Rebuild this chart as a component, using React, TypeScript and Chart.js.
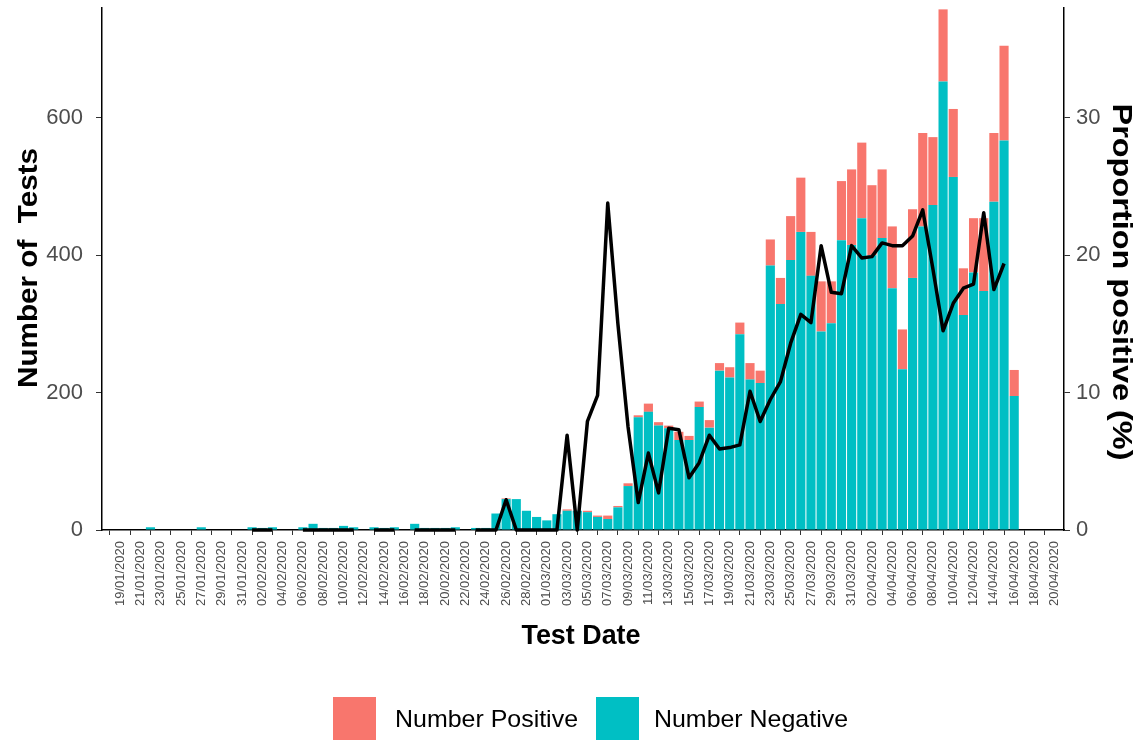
import React, { useEffect, useRef } from "react";
import { Chart, registerables } from "chart.js";

Chart.register(...registerables);

const FONT = '"Liberation Sans", Arial, sans-serif';

// Test dates (one bar per day)
const testDates = [
  "19/01/2020","20/01/2020","21/01/2020","22/01/2020","23/01/2020","24/01/2020","25/01/2020","26/01/2020","27/01/2020","28/01/2020","29/01/2020","30/01/2020","31/01/2020",
  "01/02/2020","02/02/2020","03/02/2020","04/02/2020","05/02/2020","06/02/2020","07/02/2020","08/02/2020","09/02/2020","10/02/2020","11/02/2020","12/02/2020","13/02/2020","14/02/2020","15/02/2020","16/02/2020","17/02/2020","18/02/2020","19/02/2020","20/02/2020","21/02/2020","22/02/2020","23/02/2020","24/02/2020","25/02/2020","26/02/2020","27/02/2020","28/02/2020","29/02/2020",
  "01/03/2020","02/03/2020","03/03/2020","04/03/2020","05/03/2020","06/03/2020","07/03/2020","08/03/2020","09/03/2020","10/03/2020","11/03/2020","12/03/2020","13/03/2020","14/03/2020","15/03/2020","16/03/2020","17/03/2020","18/03/2020","19/03/2020","20/03/2020","21/03/2020","22/03/2020","23/03/2020","24/03/2020","25/03/2020","26/03/2020","27/03/2020","28/03/2020","29/03/2020","30/03/2020","31/03/2020",
  "01/04/2020","02/04/2020","03/04/2020","04/04/2020","05/04/2020","06/04/2020","07/04/2020","08/04/2020","09/04/2020","10/04/2020","11/04/2020","12/04/2020","13/04/2020","14/04/2020","15/04/2020","16/04/2020"
];

const numberNegative = [
  0,0,0,4,0,0,0,0,4,0,0,0,0,
  4,3,4,0,0,4,9,3,3,6,4,0,4,3,4,0,9,3,3,3,4,0,3,3,24,45,45,28,19,
  14,23,28,28,26,19,16,33,64,164,172,152,148,131,131,179,149,232,222,285,219,214,385,329,393,434,370,289,301,422,415,
  454,400,425,352,234,367,442,473,653,514,313,375,348,478,567,195
];

const numberPositive = [
  0,0,0,0,0,0,0,0,0,0,0,0,0,
  0,0,0,0,0,0,0,0,0,0,0,0,0,0,0,0,0,0,0,0,0,0,0,0,0,1,0,0,0,
  0,0,2,0,2,2,5,2,4,3,12,5,4,12,6,8,11,11,15,17,24,18,38,38,64,79,64,73,61,86,110,
  110,102,100,90,58,100,136,99,105,99,68,79,106,100,138,38
];

const proportionPositive = [
  null,null,null,0,null,null,null,null,0,null,null,null,null,
  0,0,0,null,null,0,0,0,0,0,0,null,0,0,0,null,0,0,0,0,0,null,0,0,0,2.2,0,0,0,
  0,0,6.9,0,7.9,9.8,23.8,15,7.5,2.0,5.6,2.7,7.4,7.3,3.8,4.9,6.9,5.9,6.0,6.2,10.1,7.9,9.5,10.8,13.6,15.7,15.1,20.7,17.3,17.2,20.7,
  19.8,19.9,20.9,20.7,20.7,21.4,23.3,19.0,14.5,16.5,17.6,17.9,23.1,17.5,19.4,null
];

const xTickLabels = [
  "19/01/2020","21/01/2020","23/01/2020","25/01/2020","27/01/2020","29/01/2020","31/01/2020",
  "02/02/2020","04/02/2020","06/02/2020","08/02/2020","10/02/2020","12/02/2020","14/02/2020","16/02/2020","18/02/2020","20/02/2020","22/02/2020","24/02/2020","26/02/2020","28/02/2020",
  "01/03/2020","03/03/2020","05/03/2020","07/03/2020","09/03/2020","11/03/2020","13/03/2020","15/03/2020","17/03/2020","19/03/2020","21/03/2020","23/03/2020","25/03/2020","27/03/2020","29/03/2020","31/03/2020",
  "02/04/2020","04/04/2020","06/04/2020","08/04/2020","10/04/2020","12/04/2020","14/04/2020","16/04/2020","18/04/2020","20/04/2020"
];

const leftTicks = [0, 200, 400, 600];
const rightTicks = [0, 10, 20, 30];

const seriesNames = ["Number Positive", "Number Negative"];
const seriesColors = ["#F8766D", "#00BFC4"];
const xTitle = "Test Date";
const yTitle = "Number of  Tests";
const y2Title = "Proportion positive (%)";

function dayOf(s: string): number {
  const [d, m, y] = s.split("/").map(Number);
  const [d0, m0, y0] = testDates[0].split("/").map(Number);
  return Math.round((Date.UTC(y, m - 1, d) - Date.UTC(y0, m0 - 1, d0)) / 86400000);
}

function drawText(ctx: CanvasRenderingContext2D, text: string, cx: number, cy: number, angle: number, font: string, targetLen: number, align: CanvasTextAlign = "center") {
  ctx.save();
  ctx.font = font;
  const w = ctx.measureText(text).width;
  ctx.translate(cx, cy);
  ctx.rotate(angle);
  ctx.scale(targetLen / w, 1);
  ctx.textAlign = align;
  ctx.textBaseline = "middle";
  ctx.fillText(text, 0, 0);
  ctx.restore();
}

const decorPlugin = {
  id: "decor",
  afterDraw(chart: any) {
    const ctx: CanvasRenderingContext2D = chart.ctx;
    ctx.save();
    ctx.fillStyle = "#000";
    drawText(ctx, yTitle, 29, 268, -Math.PI / 2, `bold 28px ${FONT}`, 240);
    drawText(ctx, y2Title, 1121, 282, Math.PI / 2, `bold 28px ${FONT}`, 357);
    drawText(ctx, xTitle, 581, 636, 0, `bold 28px ${FONT}`, 119);
    // legend
    ctx.fillStyle = seriesColors[0];
    ctx.fillRect(333, 697, 43, 43);
    ctx.fillStyle = seriesColors[1];
    ctx.fillRect(596, 697, 43, 43);
    ctx.fillStyle = "#000";
    drawText(ctx, seriesNames[0], 395, 720, 0, `24px ${FONT}`, 183, "left");
    drawText(ctx, seriesNames[1], 654, 720, 0, `24px ${FONT}`, 194, "left");
    ctx.restore();
  },
};

export default function App() {
  const ref = useRef<HTMLCanvasElement | null>(null);

  useEffect(() => {
    if (!ref.current) return;
    const xs = testDates.map(dayOf);
    const tickDays = xTickLabels.map(dayOf);
    const labelByDay: Record<number, string> = {};
    xTickLabels.forEach((l, i) => (labelByDay[tickDays[i]] = l));

    const chart = new Chart(ref.current, {
      type: "bar",
      data: {
        datasets: [
          {
            type: "line",
            label: "Proportion positive",
            data: proportionPositive.map((v, i) => ({ x: xs[i], y: v })),
            yAxisID: "y2",
            borderColor: "#000",
            borderWidth: 3.5,
            borderJoinStyle: "round",
            borderCapStyle: "butt",
            pointRadius: 0,
            spanGaps: false,
            tension: 0,
            order: 0,
            clip: false,
          } as any,
          {
            type: "bar",
            label: seriesNames[1],
            data: numberNegative.map((v, i) => ({ x: xs[i], y: v })),
            backgroundColor: seriesColors[1],
            yAxisID: "y",
            barPercentage: 0.9,
            categoryPercentage: 1,
            order: 1,
          },
          {
            type: "bar",
            label: seriesNames[0],
            data: numberPositive.map((v, i) => ({ x: xs[i], y: v })),
            backgroundColor: seriesColors[0],
            yAxisID: "y",
            barPercentage: 0.9,
            categoryPercentage: 1,
            order: 1,
          },
        ],
      },
      options: {
        responsive: false,
        animation: false,
        devicePixelRatio: 1,
        layout: { padding: { top: 8, left: 0, right: 0, bottom: 0 } },
        plugins: { legend: { display: false }, tooltip: { enabled: false } },
        scales: {
          x: {
            type: "linear",
            min: -1.77,
            max: 92.9,
            stacked: true,
            offset: false,
            grid: { display: true, drawOnChartArea: false, drawTicks: true, tickLength: 5, color: "#333333", lineWidth: 1 },
            border: { display: true, color: "#000", width: 1.5 },
            ticks: {
              autoSkip: false,
              maxRotation: 90,
              minRotation: 90,
              padding: 6,
              color: "#4D4D4D",
              font: { size: 13, family: FONT },
              callback: (v: any) => labelByDay[Math.round(Number(v))] ?? "",
            },
            afterBuildTicks: (s: any) => {
              s.ticks = tickDays.map((v) => ({ value: v }));
            },
            afterFit: (s: any) => {
              s.height = 210;
              s.paddingLeft = 0;
              s.paddingRight = 0;
            },
          },
          y: {
            type: "linear",
            position: "left",
            min: 0,
            max: 760,
            stacked: true,
            grid: { display: true, drawOnChartArea: false, drawTicks: true, tickLength: 6, color: "#333333" },
            border: { display: true, color: "#000", width: 1.5 },
            ticks: { padding: 13, color: "#4D4D4D", font: { size: 22, family: FONT } },
            afterBuildTicks: (s: any) => {
              s.ticks = leftTicks.map((v) => ({ value: v }));
            },
            afterFit: (s: any) => {
              s.width = 102;
              s.paddingTop = 0;
              s.paddingBottom = 0;
            },
          },
          y2: {
            type: "linear",
            position: "right",
            min: 0,
            max: 38,
            grid: { display: true, drawOnChartArea: false, drawTicks: true, tickLength: 6, color: "#333333" },
            border: { display: true, color: "#000", width: 1.5 },
            ticks: { padding: 6, color: "#4D4D4D", font: { size: 22, family: FONT } },
            afterBuildTicks: (s: any) => {
              s.ticks = rightTicks.map((v) => ({ value: v }));
            },
            afterFit: (s: any) => {
              s.width = 77;
              s.paddingTop = 0;
              s.paddingBottom = 0;
            },
          },
        },
      } as any,
      plugins: [decorPlugin],
    });
    return () => chart.destroy();
  }, []);

  return (
    <div style={{ position: "absolute", left: 0, top: 0, width: 1141, height: 740, background: "#fff" }}>
      <canvas ref={ref} width={1141} height={740} style={{ display: "block" }} />
    </div>
  );
}
